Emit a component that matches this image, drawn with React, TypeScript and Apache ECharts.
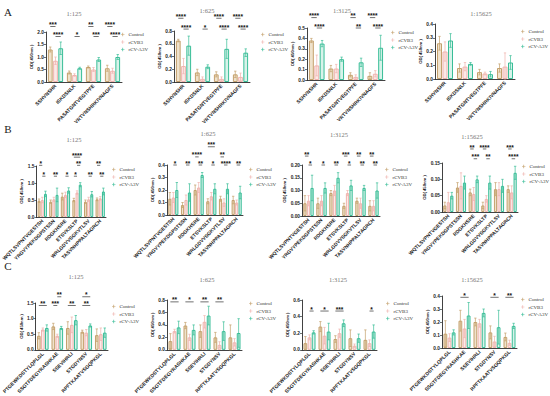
import React, { useEffect, useRef } from "react";
import * as echarts from "echarts";

const SERIES = ["Control", "rCVB3", "rCV-A3V"];
const DILUTIONS = ["1:125", "1:625", "1:3125", "1:15625"];
const ROW_LETTERS = ["A", "B", "C"];

const CATS_A = ["SSHVNSHR", "ISKDSNLK", "PASATGNTVEGTPFE", "VRTVNSHRKIVNAGFS"];
const CATS_B = ["WQTLSVPNTVGESTSH", "YRGVYPEKDGPSTSSN", "RDGKHSRE", "ETSVKSLTP", "WRLGDVVSGKVTLSV", "TASVNHPPALTAGRCH"];
const CATS_C = ["PTGEWKDSTYLQPLGL", "SSGTFDEGYRASHKAE", "SSEVIHRLI", "STGDYNSV", "RPFTKAATVSGQPKGL"];

// means: [Control, rCVB3, rCV-A3V]
const A1_MEAN = [[1.3, 0.38, 0.6, 0.55], [0.85, 0.28, 0.5, 0.45], [1.35, 0.55, 0.9, 1.0]];
const A1_SD = [[0.1, 0.06, 0.04, 0.12], [0.15, 0.05, 0.08, 0.1], [0.25, 0.04, 0.08, 0.1]];
const A2_MEAN = [[0.65, 0.15, 0.12, 0.12], [0.25, 0.05, 0.05, 0.08], [0.57, 0.24, 0.52, 0.46]];
const A2_SD = [[0.02, 0.05, 0.04, 0.05], [0.12, 0.03, 0.03, 0.06], [0.15, 0.03, 0.15, 0.06]];
const A3_MEAN = [[0.38, 0.11, 0.05, 0.04], [0.14, 0.11, 0.03, 0.06], [0.35, 0.2, 0.17, 0.31]];
const A3_SD = [[0.02, 0.03, 0.02, 0.03], [0.1, 0.04, 0.02, 0.03], [0.03, 0.02, 0.04, 0.12]];
const A4_MEAN = [[0.26, 0.08, 0.05, 0.08], [0.2, 0.09, 0.04, 0.09], [0.28, 0.11, 0.035, 0.12]];
const A4_SD = [[0.05, 0.03, 0.02, 0.03], [0.07, 0.03, 0.01, 0.1], [0.05, 0.01, 0.02, 0.05]];

const B1_MEAN = [[0.48, 0.45, 0.6, 0.5, 0.45, 0.52], [0.5, 0.52, 0.65, 0.72, 0.52, 0.55], [0.68, 0.65, 0.78, 0.95, 0.67, 0.75]];
const B1_SD = [[0.05, 0.05, 0.1, 0.05, 0.05, 0.04], [0.08, 0.06, 0.08, 0.05, 0.06, 0.05], [0.08, 0.2, 0.08, 0.06, 0.08, 0.1]];
const B2_MEAN = [[0.13, 0.08, 0.2, 0.11, 0.13, 0.12], [0.14, 0.12, 0.22, 0.15, 0.1, 0.1], [0.2, 0.18, 0.32, 0.21, 0.21, 0.18]];
const B2_SD = [[0.05, 0.02, 0.04, 0.02, 0.02, 0.03], [0.04, 0.04, 0.04, 0.03, 0.03, 0.02], [0.06, 0.07, 0.02, 0.04, 0.04, 0.05]];
const B3_MEAN = [[0.05, 0.05, 0.09, 0.04, 0.06, 0.04], [0.06, 0.06, 0.1, 0.09, 0.05, 0.04], [0.11, 0.11, 0.15, 0.12, 0.11, 0.1]];
const B3_SD = [[0.03, 0.02, 0.01, 0.01, 0.01, 0.02], [0.02, 0.02, 0.02, 0.01, 0.02, 0.02], [0.05, 0.02, 0.02, 0.02, 0.01, 0.03]];
const B4_MEAN = [[0.02, 0.075, 0.06, 0.02, 0.07, 0.07], [0.03, 0.08, 0.055, 0.04, 0.07, 0.06], [0.05, 0.09, 0.1, 0.09, 0.08, 0.12]];
const B4_SD = [[0.01, 0.015, 0.01, 0.01, 0.02, 0.01], [0.03, 0.04, 0.02, 0.01, 0.02, 0.02], [0.01, 0.02, 0.01, 0.02, 0.02, 0.02]];

const C1_MEAN = [[0.45, 0.75, 0.7, 0.58, 0.47], [0.65, 0.45, 0.8, 0.55, 0.5], [0.7, 0.7, 0.95, 0.78, 0.55]];
const C1_SD = [[0.1, 0.1, 0.2, 0.05, 0.2], [0.05, 0.05, 0.25, 0.1, 0.2], [0.1, 0.05, 0.15, 0.05, 0.15]];
const C2_MEAN = [[0.14, 0.39, 0.3, 0.2, 0.2], [0.3, 0.2, 0.45, 0.08, 0.12], [0.36, 0.32, 0.55, 0.3, 0.27]];
const C2_SD = [[0.12, 0.05, 0.1, 0.08, 0.2], [0.03, 0.05, 0.1, 0.05, 0.06], [0.1, 0.08, 0.15, 0.15, 0.23]];
const C3_MEAN = [[0.08, 0.28, 0.13, 0.14, 0.12], [0.15, 0.17, 0.2, 0.05, 0.08], [0.21, 0.22, 0.32, 0.14, 0.22]];
const C3_SD = [[0.08, 0.06, 0.04, 0.1, 0.12], [0.03, 0.1, 0.05, 0.02, 0.04], [0.02, 0.1, 0.04, 0.05, 0.08]];
const C4_MEAN = [[0.11, 0.21, 0.2, 0.12, 0.085], [0.08, 0.15, 0.19, 0.05, 0.04], [0.12, 0.25, 0.27, 0.16, 0.17]];
const C4_SD = [[0.1, 0.08, 0.03, 0.05, 0.03], [0.03, 0.07, 0.03, 0.04, 0.02], [0.02, 0.1, 0.03, 0.13, 0.02]];

// significance: [category, fromBar, toBar, bracketLevel, label]
type Sig = [number, number, number, number, string];
const A1_SIG: Sig[] = [
  [0, 0, 1, 2.22, "***"], [2, 0, 1, 2.22, "**"], [3, 0, 1, 2.22, "****"],
  [0, 1, 2, 1.82, "****"], [1, 1, 2, 1.82, "*"], [2, 1, 2, 1.82, "***"], [3, 1, 2, 1.82, "****"],
];
const A2_SIG: Sig[] = [
  [0, 0, 1, 1.0, "****"], [2, 0, 1, 1.0, "****"], [3, 0, 1, 1.0, "****"],
  [0, 1, 2, 0.83, "****"], [1, 1, 2, 0.83, "*"], [2, 1, 2, 0.83, "****"], [3, 1, 2, 0.83, "****"],
];
const A3_SIG: Sig[] = [
  [0, 0, 1, 0.6, "****"], [2, 0, 1, 0.6, "**"], [3, 0, 1, 0.6, "****"],
  [0, 1, 2, 0.5, "****"], [2, 1, 2, 0.5, "**"], [3, 1, 2, 0.5, "****"],
];
const A4_SIG: Sig[] = [];
const B1_SIG: Sig[] = [
  [3, 0, 2, 1.76, "****"],
  [0, 0, 1, 1.52, "*"], [3, 1, 2, 1.52, "**"], [5, 0, 1, 1.52, "**"],
  [0, 1, 2, 1.2, "*"], [1, 1, 2, 1.2, "**"], [2, 1, 2, 1.2, "*"], [3, 0, 1, 1.2, "*"], [4, 1, 2, 1.2, "**"], [5, 1, 2, 1.2, "**"],
];
const B2_SIG: Sig[] = [
  [3, 0, 2, 0.546, "***"],
  [2, 0, 1, 0.465, "****"], [4, 0, 1, 0.465, "**"],
  [0, 1, 2, 0.4, "*"], [1, 1, 2, 0.4, "**"], [2, 1, 2, 0.4, "**"], [3, 1, 2, 0.4, "*"], [4, 1, 2, 0.4, "****"], [5, 1, 2, 0.4, "**"],
];
const B3_SIG: Sig[] = [
  [0, 0, 1, 0.235, "**"], [3, 0, 1, 0.235, "***"], [4, 0, 1, 0.235, "**"], [5, 0, 1, 0.235, "**"],
  [0, 1, 2, 0.2, "*"], [1, 1, 2, 0.2, "*"], [2, 1, 2, 0.2, "**"], [3, 1, 2, 0.2, "*"], [4, 1, 2, 0.2, "**"], [5, 1, 2, 0.2, "**"],
];
const B4_SIG: Sig[] = [
  [2, 0, 1, 0.193, "**"], [3, 0, 1, 0.193, "****"], [5, 0, 1, 0.193, "***"],
  [2, 1, 2, 0.163, "***"], [3, 1, 2, 0.163, "**"], [5, 1, 2, 0.163, "****"],
];
const C1_SIG: Sig[] = [
  [1, 1, 2, 1.7, "**"], [3, 0, 2, 1.7, "*"],
  [0, 0, 2, 1.42, "**"], [1, 0, 1, 1.42, "***"], [2, 0, 2, 1.42, "**"], [3, 0, 2, 1.42, "**"],
];
const C2_SIG: Sig[] = [
  [0, 0, 2, 0.77, "**"], [1, 0, 2, 0.77, "*"], [2, 0, 2, 0.77, "**"], [3, 0, 2, 0.77, "**"],
];
const C3_SIG: Sig[] = [
  [0, 1, 2, 0.467, "*"], [1, 0, 2, 0.467, "*"], [2, 0, 2, 0.467, "***"], [4, 1, 2, 0.467, "*"],
];
const C4_SIG: Sig[] = [
  [1, 0, 2, 0.39, "*"], [3, 0, 2, 0.39, "*"], [4, 0, 2, 0.39, "**"],
];

const PANELS = [
  { cats: CATS_A, mean: A1_MEAN, sd: A1_SD, sig: A1_SIG, max: 2.0, step: 0.5, dec: 1 },
  { cats: CATS_A, mean: A2_MEAN, sd: A2_SD, sig: A2_SIG, max: 0.8, step: 0.2, dec: 1 },
  { cats: CATS_A, mean: A3_MEAN, sd: A3_SD, sig: A3_SIG, max: 0.5, step: 0.1, dec: 1 },
  { cats: CATS_A, mean: A4_MEAN, sd: A4_SD, sig: A4_SIG, max: 0.4, step: 0.1, dec: 1 },
  { cats: CATS_B, mean: B1_MEAN, sd: B1_SD, sig: B1_SIG, max: 1.5, step: 0.5, dec: 1 },
  { cats: CATS_B, mean: B2_MEAN, sd: B2_SD, sig: B2_SIG, max: 0.4, step: 0.1, dec: 1 },
  { cats: CATS_B, mean: B3_MEAN, sd: B3_SD, sig: B3_SIG, max: 0.2, step: 0.05, dec: 2 },
  { cats: CATS_B, mean: B4_MEAN, sd: B4_SD, sig: B4_SIG, max: 0.15, step: 0.05, dec: 2 },
  { cats: CATS_C, mean: C1_MEAN, sd: C1_SD, sig: C1_SIG, max: 1.5, step: 0.5, dec: 1 },
  { cats: CATS_C, mean: C2_MEAN, sd: C2_SD, sig: C2_SIG, max: 0.8, step: 0.2, dec: 1 },
  { cats: CATS_C, mean: C3_MEAN, sd: C3_SD, sig: C3_SIG, max: 0.6, step: 0.2, dec: 1 },
  { cats: CATS_C, mean: C4_MEAN, sd: C4_SD, sig: C4_SIG, max: 0.4, step: 0.1, dec: 1 },
];

// layout (pixels): grid x,y,w,h ; title tx,ty ; legend lx,ly
const LAYOUT = [
  { x: 46, y: 32, w: 76, h: 50, tx: 74, ty: 13, lx: 121, ly: 32 },
  { x: 174, y: 31, w: 76, h: 51, tx: 207, ty: 10, lx: 261, ly: 32 },
  { x: 307, y: 28, w: 78, h: 52, tx: 342, ty: 10, lx: 391, ly: 30 },
  { x: 435, y: 24, w: 80, h: 55, tx: 481, ty: 13, lx: 521, ly: 29 },
  { x: 28, y: 166, w: 78, h: 51, tx: 74, ty: 139, lx: 112, ly: 167 },
  { x: 167, y: 165, w: 76, h: 50, tx: 208, ty: 133, lx: 249, ly: 167 },
  { x: 302, y: 165, w: 78, h: 51, tx: 339, ty: 134, lx: 385, ly: 167 },
  { x: 442, y: 163, w: 76, h: 49, tx: 472, ty: 136, lx: 522, ly: 164 },
  { x: 32, y: 303, w: 76, h: 50, tx: 76, ty: 276, lx: 112, ly: 304 },
  { x: 167, y: 300, w: 75, h: 51, tx: 207, ty: 279, lx: 249, ly: 301 },
  { x: 302, y: 300, w: 75, h: 50, tx: 338, ty: 279, lx: 386, ly: 301 },
  { x: 442, y: 296, w: 75, h: 52, tx: 472, ty: 279, lx: 521, ly: 297 },
];
const LETTER_POS = [
  { x: 8, y: 12 },
  { x: 8, y: 129 },
  { x: 8, y: 266 },
];

const FILL = ["#efe2cc", "#fce9e7", "#d8f3ea"];
const EDGE = ["#c4a06c", "#efb3ae", "#38bd97"];
const BAR_GAP = 0.1;
const CAT_GAP = 0.2;

function barX(api: any, cat: number, bar: number, y: number) {
  const c = api.coord([cat, y]);
  const band = api.size([1, 0])[0];
  const w = (band * (1 - CAT_GAP)) / (3 + 2 * BAR_GAP);
  return [c[0] + (bar - 1) * w * (1 + BAR_GAP), c[1], w];
}

export default function App() {
  const ref = useRef<HTMLDivElement>(null);
  useEffect(() => {
    if (!ref.current) return;
    const chart = echarts.init(ref.current, undefined, { renderer: "svg" });
    const font = "Liberation Sans";
    const grid: any[] = [];
    const xAxis: any[] = [];
    const yAxis: any[] = [];
    const series: any[] = [];
    const legend: any[] = [];
    const graphic: any[] = [];

    PANELS.forEach((p, i) => {
      const L = LAYOUT[i];
      grid.push({ left: L.x, top: L.y, width: L.w, height: L.h });
      xAxis.push({
        type: "category",
        gridIndex: i,
        data: p.cats,
        axisLine: { lineStyle: { color: "#111", width: 0.8 } },
        axisTick: { alignWithLabel: true, length: 2, lineStyle: { color: "#111", width: 0.6 } },
        axisLabel: { interval: 0, rotate: 45, fontSize: 5, fontWeight: "bold", color: "#222", margin: 3, fontFamily: font },
      });
      yAxis.push({
        type: "value",
        gridIndex: i,
        min: 0,
        max: p.max,
        interval: p.step,
        name: "OD( 450nm )",
        nameLocation: "middle",
        nameGap: p.dec === 2 ? 14 : 12,
        nameTextStyle: { fontSize: 4.2, fontWeight: "bold", color: "#222", fontFamily: font },
        axisLine: { show: true, lineStyle: { color: "#111", width: 0.8 } },
        axisTick: { show: true, length: 2, lineStyle: { color: "#111", width: 0.6 } },
        splitLine: { show: false },
        axisLabel: {
          fontSize: 4.8, fontWeight: "bold", color: "#222", margin: 2, fontFamily: font,
          formatter: (v: number) => v.toFixed(p.dec),
        },
      });
      SERIES.forEach((name, s) => {
        series.push({
          type: "bar",
          name,
          xAxisIndex: i,
          yAxisIndex: i,
          data: p.mean[s],
          barGap: `${BAR_GAP * 100}%`,
          barCategoryGap: `${CAT_GAP * 100}%`,
          itemStyle: { color: FILL[s], borderColor: EDGE[s], borderWidth: 1 },
        });
      });
      const errData: number[][] = [];
      p.mean.forEach((arr, s) => arr.forEach((m, c) => errData.push([c, s, m, p.sd[s][c]])));
      series.push({
        type: "custom",
        xAxisIndex: i,
        yAxisIndex: i,
        z: 4,
        encode: { x: 0, y: 2 },
        data: errData,
        renderItem: (_params: any, api: any) => {
          const c = api.value(0), s = api.value(1), m = api.value(2), sd = api.value(3);
          const [x] = barX(api, c, s, m);
          const yt = api.coord([c, m + sd])[1];
          const yb = api.coord([c, Math.max(0, m - sd)])[1];
          const cap = 1.2;
          const st = { stroke: EDGE[s], lineWidth: 0.7 };
          return {
            type: "group",
            children: [
              { type: "line", shape: { x1: x, y1: yt, x2: x, y2: yb }, style: st },
              { type: "line", shape: { x1: x - cap, y1: yt, x2: x + cap, y2: yt }, style: st },
              { type: "line", shape: { x1: x - cap, y1: yb, x2: x + cap, y2: yb }, style: st },
            ],
          };
        },
      });
      if (p.sig.length) {
        const sig = p.sig;
        series.push({
          type: "custom",
          xAxisIndex: i,
          yAxisIndex: i,
          z: 5,
          clip: false,
          encode: { x: 0, y: 3 },
          data: sig.map((r) => [r[0], r[1], r[2], r[3]]),
          renderItem: (params: any, api: any) => {
            const c = api.value(0), f = api.value(1), t = api.value(2), lv = api.value(3);
            const [x1, y] = barX(api, c, f, lv);
            const [x2] = barX(api, c, t, lv);
            return {
              type: "group",
              children: [
                { type: "line", shape: { x1, y1: y, x2, y2: y }, style: { stroke: "#111", lineWidth: 0.6 } },
                {
                  type: "text",
                  style: {
                    text: sig[params.dataIndex][4], x: (x1 + x2) / 2, y: y + 1.6,
                    textAlign: "center", textVerticalAlign: "bottom",
                    fontSize: 6.5, fontWeight: "bold", fill: "#111", fontFamily: font,
                  },
                },
              ],
            };
          },
        });
      }
      legend.push({
        left: L.lx,
        top: L.ly,
        orient: "vertical",
        padding: 0,
        itemWidth: 3.5,
        itemHeight: 3.5,
        itemGap: 2.5,
        icon: "path://M4,0H6V4H10V6H6V10H4V6H0V4H4Z",
        textStyle: { fontSize: 5, color: "#333", fontFamily: "Liberation Serif", padding: [0, 0, 0, -1] },
        data: SERIES.map((n, k) => ({ name: n, itemStyle: { color: EDGE[k], borderWidth: 0 } })),
      });
      graphic.push({
        type: "text",
        x: L.tx,
        y: L.ty,
        style: {
          text: DILUTIONS[i % 4], textAlign: "center", textVerticalAlign: "middle",
          fontSize: 6.5, fill: "#777", fontFamily: "Liberation Serif",
        },
      });
    });
    ROW_LETTERS.forEach((t, r) => {
      graphic.push({
        type: "text",
        x: LETTER_POS[r].x,
        y: LETTER_POS[r].y,
        style: { text: t, textAlign: "center", textVerticalAlign: "middle", fontSize: 11, fill: "#222", fontFamily: "Liberation Serif" },
      });
    });

    chart.setOption({
      animation: false,
      backgroundColor: "#fff",
      grid, xAxis, yAxis, series, legend, graphic,
    });
    return () => chart.dispose();
  }, []);
  return <div ref={ref} style={{ position: "absolute", left: 0, top: 0, width: 550, height: 396 }} />;
}
